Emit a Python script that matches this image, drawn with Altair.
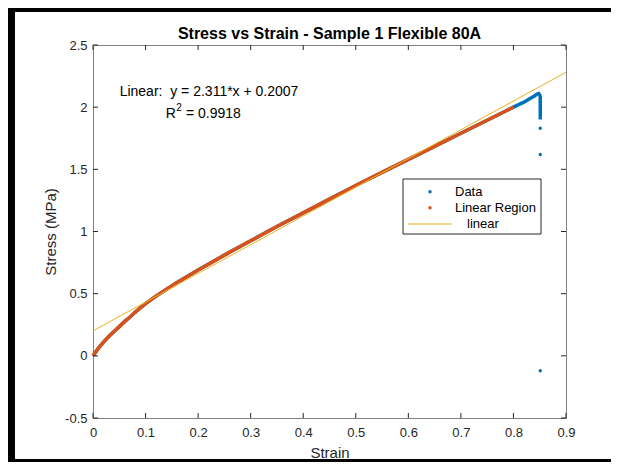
import altair as alt
import pandas as pd

# ---- data ----
lin_strain = [0.0, 0.01, 0.02, 0.03, 0.04, 0.05, 0.06, 0.07, 0.08, 0.09, 0.10,
              0.12, 0.14, 0.16, 0.18, 0.20, 0.25, 0.30, 0.35, 0.40, 0.45, 0.50,
              0.55, 0.60, 0.65, 0.70, 0.75, 0.80]
lin_stress = [0.0, 0.06, 0.11, 0.155, 0.195, 0.235, 0.275, 0.31, 0.35, 0.385, 0.42,
              0.48, 0.535, 0.59, 0.64, 0.69, 0.81, 0.925, 1.04, 1.15, 1.26, 1.37,
              1.475, 1.58, 1.685, 1.79, 1.895, 2.0]
tail_strain = [0.81, 0.82, 0.83, 0.84, 0.845, 0.848, 0.850, 0.851, 0.851, 0.851,
               0.851, 0.851, 0.851, 0.851, 0.851, 0.851]
tail_stress = [2.02, 2.04, 2.065, 2.09, 2.105, 2.11, 2.10, 2.08, 2.05, 2.02,
               2.0, 1.98, 1.96, 1.94, 1.92, 1.90]
drop_strain = [0.851, 0.851, 0.851]
drop_stress = [1.83, 1.62, -0.12]

fit_slope = 2.311
fit_intercept = 0.2007
fit_x = [0.0, 0.9]

x_ticks = [0, 0.1, 0.2, 0.3, 0.4, 0.5, 0.6, 0.7, 0.8, 0.9]
y_ticks = [-0.5, 0, 0.5, 1, 1.5, 2, 2.5]

BLUE = "#0072BD"
ORANGE = "#D95319"
YELLOW = "#EDB120"
FONT = "Liberation Sans"
W, H = 473, 373

data_curve = pd.DataFrame({
    "strain": lin_strain + tail_strain,
    "stress": lin_stress + tail_stress,
})
data_curve["i"] = range(len(data_curve))
data_drop = pd.DataFrame({"strain": drop_strain, "stress": drop_stress})
lin_df = pd.DataFrame({"strain": lin_strain, "stress": lin_stress})
lin_df["i"] = range(len(lin_df))
fit_df = pd.DataFrame({"strain": fit_x,
                       "stress": [fit_slope * v + fit_intercept for v in fit_x]})
xt = pd.DataFrame({"strain": x_ticks})
yt = pd.DataFrame({"stress": y_ticks})
one = pd.DataFrame({"a": [0]})

xs = alt.Scale(domain=[0, 0.9], nice=False, zero=False)
ys = alt.Scale(domain=[-0.5, 2.5], nice=False, zero=False)

x_axis = alt.Axis(values=x_ticks, format=".1~f", labelPadding=8, titlePadding=6,
                  labelFlush=False)
y_axis = alt.Axis(values=y_ticks, format=".1~f", labelPadding=6, titlePadding=6,
                  labelExpr="replace(datum.label, '\u2212', '-')", labelFlush=False)

X = alt.X("strain:Q", scale=xs, axis=x_axis, title="Strain")
Y = alt.Y("stress:Q", scale=ys, axis=y_axis, title="Stress (MPa)")

blue_line = alt.Chart(data_curve).mark_line(color=BLUE, strokeWidth=3.5).encode(
    x=X, y=Y, order="i:Q")
blue_pts = alt.Chart(data_drop).mark_circle(color=BLUE, size=12, opacity=1).encode(
    x=X, y=Y)
orange_line = alt.Chart(lin_df).mark_line(color=ORANGE, strokeWidth=3.5).encode(
    x=X, y=Y, order="i:Q")
fit_line = alt.Chart(fit_df).mark_line(color=YELLOW, strokeWidth=1).encode(
    x=X, y=Y)

TC = "#262626"
ticks = [
    alt.Chart(xt).mark_rule(color=TC).encode(x=X, y=alt.value(H), y2=alt.value(H - 5)),
    alt.Chart(xt).mark_rule(color=TC).encode(x=X, y=alt.value(0), y2=alt.value(5)),
    alt.Chart(yt).mark_rule(color=TC).encode(y=Y, x=alt.value(0), x2=alt.value(5)),
    alt.Chart(yt).mark_rule(color=TC).encode(y=Y, x=alt.value(W), x2=alt.value(W - 5)),
]

title_txt = alt.Chart(one).mark_text(
    text="Stress vs Strain - Sample 1 Flexible 80A", font=FONT, fontSize=16,
    fontWeight="bold", color="black", align="center", baseline="middle"
).encode(x=alt.value(W / 2), y=alt.value(-11))


def txt(t, x, y, size=14, align="left"):
    return alt.Chart(one).mark_text(text=t, font=FONT, fontSize=size, color="black",
                                    align=align, baseline="middle").encode(
        x=alt.value(x), y=alt.value(y))


ann = [
    txt("Linear:\u00a0 y = 2.311*x + 0.2007", 116, 47, align="center"),
    txt("R", 72.7, 69),
    txt("2", 83.2, 63, size=10),
    txt("= 0.9918", 93, 69),
]

# legend
leg_box = alt.Chart(one).mark_rect(fill="white", stroke=TC, strokeWidth=1).encode(
    x=alt.value(310), x2=alt.value(448), y=alt.value(134), y2=alt.value(189))
leg_d = alt.Chart(one).mark_circle(color=BLUE, size=12, opacity=1).encode(
    x=alt.value(337), y=alt.value(146.7))
leg_l = alt.Chart(one).mark_circle(color=ORANGE, size=12, opacity=1).encode(
    x=alt.value(337), y=alt.value(162.7))
leg_f = alt.Chart(one).mark_rule(color=YELLOW, strokeWidth=1).encode(
    x=alt.value(315), x2=alt.value(359), y=alt.value(179))
legend = [leg_box, leg_d, leg_l, leg_f,
          txt("Data", 362, 146.7, size=13), txt("Linear Region", 362, 162.7, size=13),
          txt("linear", 374, 179, size=13)]

# black frame of the picture
def bar(x1, x2, y1, y2):
    return alt.Chart(one).mark_rect(color="black").encode(
        x=alt.value(x1), x2=alt.value(x2), y=alt.value(y1), y2=alt.value(y2))
frame = [bar(-85, -78, -37, 417), bar(-85, 518, -37, -33), bar(-85, 518, 414, 417)]

chart = alt.layer(
    blue_line, blue_pts, orange_line, fit_line, *ticks, title_txt, *ann,
    *legend, *frame
).properties(
    width=W, height=H,
    autosize=alt.AutoSizeParams(type="none"),
    padding={"left": 85, "top": 37, "right": 45, "bottom": 44},
).configure_view(
    stroke="#808080", strokeWidth=1
).configure_axis(
    domain=False, ticks=False, grid=False,
    labelFont=FONT, labelFontSize=13, labelColor=TC,
    titleFont=FONT, titleFontSize=15, titleFontWeight="normal", titleColor=TC,
)

chart.save("out.html", embed_options={"renderer": "svg", "actions": False})
